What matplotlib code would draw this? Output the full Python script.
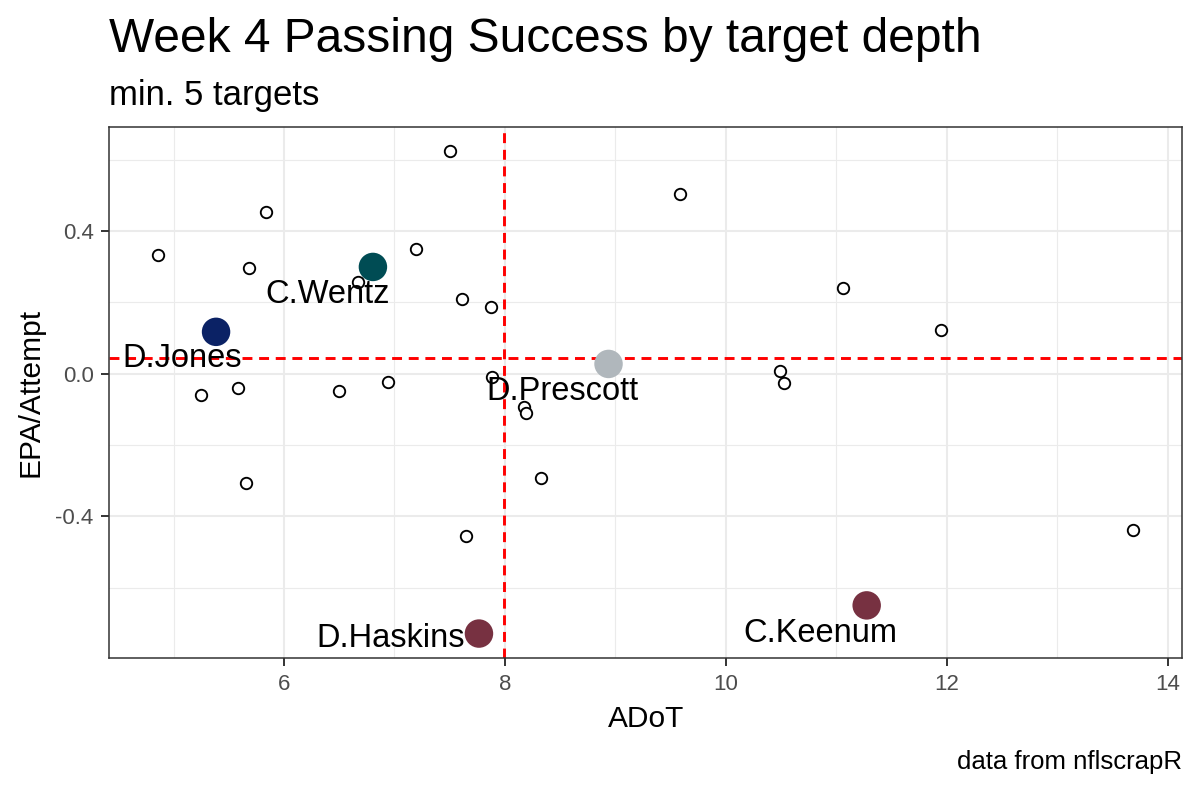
import matplotlib
matplotlib.use("Agg")
import matplotlib.pyplot as plt
from matplotlib.ticker import MultipleLocator

plt.rcParams['font.family'] = ['Liberation Sans', 'DejaVu Sans']
plt.rcParams['axes.unicode_minus'] = False

# All passers with at least 5 targets (ADoT, EPA per attempt)
adot = [4.857, 5.837, 5.681, 7.500, 7.195, 6.672, 7.608, 7.871, 5.252, 5.584,
        6.500, 6.944, 7.885, 8.172, 8.187, 5.656, 7.647, 8.326, 9.587, 11.064,
        11.952, 10.487, 10.523, 13.688]
epa = [0.333, 0.454, 0.297, 0.623, 0.350, 0.256, 0.210, 0.186, -0.059, -0.041,
       -0.048, -0.025, -0.010, -0.093, -0.110, -0.306, -0.455, -0.292, 0.503, 0.239,
       0.121, 0.008, -0.026, -0.438]

# Highlighted quarterbacks
qb_names = ['D.Jones', 'C.Wentz', 'D.Prescott', 'D.Haskins', 'C.Keenum']
qb_adot = [5.385, 6.805, 8.938, 7.765, 11.275]
qb_epa = [0.117, 0.299, 0.027, -0.729, -0.650]
qb_colors = ['#0B2265', '#004C54', '#B0B7BC', '#773141', '#773141']

# reference lines
adot_ref = 7.99
epa_ref = 0.045

# label offsets in points (dx, dy of the baseline centre)
label_offsets = {
    'D.Jones': (-24.5, -25.5),
    'C.Wentz': (-32.5, -26),
    'D.Prescott': (-33.5, -26),
    'D.Haskins': (-63.5, -9.5),
    'C.Keenum': (-33.5, -26),
}

fig = plt.figure(figsize=(12, 7.9), dpi=100)
ax = fig.add_axes([0.0908, 0.1675, 0.8942, 0.6714])

ax.scatter(adot, epa, s=68, facecolors='white', edgecolors='black',
           linewidths=1.35, zorder=3)
ax.scatter(qb_adot, qb_epa, s=420, c=qb_colors, edgecolors='none', zorder=4)

ax.axvline(adot_ref, color='red', lw=2.1, linestyle=(0, (3.4, 2.3)), zorder=2)
ax.axhline(epa_ref, color='red', lw=2.1, linestyle=(0, (3.4, 2.3)), zorder=2)

for name, x, y in zip(qb_names, qb_adot, qb_epa):
    ax.annotate(name, (x, y), xytext=label_offsets[name], textcoords='offset points',
                ha='center', va='baseline', fontsize=23.5, color='black', zorder=5)

# ggplot-style 5% expansion
all_x = adot + qb_adot
all_y = epa + qb_epa
xr = max(all_x) - min(all_x)
yr = max(all_y) - min(all_y)
ax.set_xlim(min(all_x) - 0.05 * xr, max(all_x) + 0.05 * xr)
ax.set_ylim(min(all_y) - 0.05 * yr, max(all_y) + 0.05 * yr)

ax.xaxis.set_major_locator(MultipleLocator(2))
ax.xaxis.set_minor_locator(MultipleLocator(1))
ax.yaxis.set_major_locator(MultipleLocator(0.4))
ax.yaxis.set_minor_locator(MultipleLocator(0.2))
ax.yaxis.set_major_formatter(matplotlib.ticker.FormatStrFormatter('%.1f'))

ax.grid(which='major', color='#EBEBEB', lw=1.5, zorder=0)
ax.grid(which='minor', color='#EBEBEB', lw=0.8, zorder=0)
ax.set_axisbelow(True)

for sp in ax.spines.values():
    sp.set_color('#333333')
    sp.set_linewidth(1.1)

ax.tick_params(which='major', length=6, width=1.4, color='#333333',
               labelsize=16, labelcolor='#4D4D4D')
ax.tick_params(axis='x', pad=6)
ax.tick_params(axis='y', pad=5)
ax.tick_params(which='minor', length=0)

fig.text(0.0908, 0.9346, 'Week 4 Passing Success by target depth',
         fontsize=34.5, va='baseline', ha='left')
fig.text(0.0908, 0.867, 'min. 5 targets', fontsize=25, va='baseline', ha='left')
fig.text(0.538, 0.0797, 'ADoT', fontsize=21.5, va='baseline', ha='center')
fig.text(0.0323, 0.503, 'EPA/Attempt', fontsize=21.5, rotation=90,
         rotation_mode='anchor', va='baseline', ha='center')
fig.text(0.985, 0.0262, 'data from nflscrapR', fontsize=18.5, va='baseline', ha='right')

fig.savefig('out.png', dpi=100, facecolor='white')
